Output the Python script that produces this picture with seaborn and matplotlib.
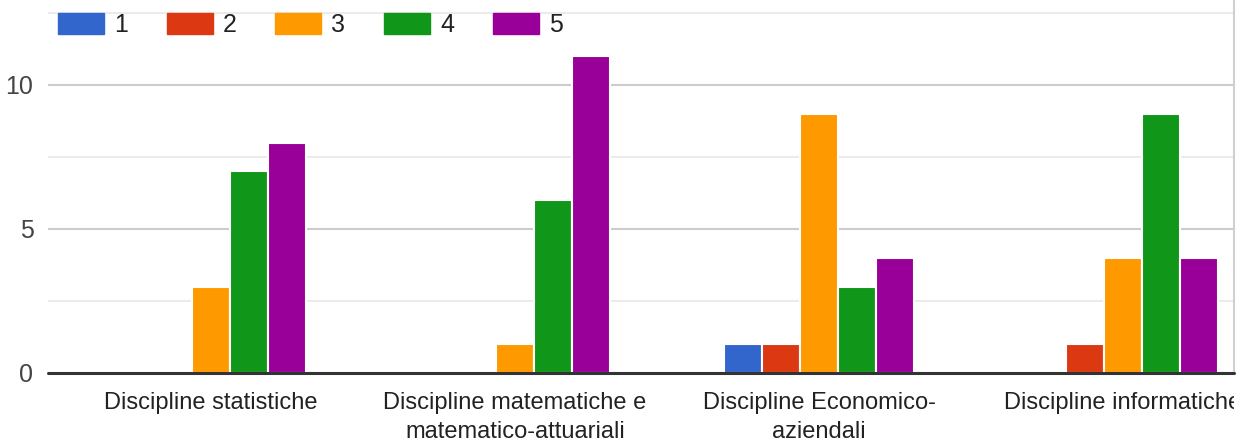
import pandas as pd
import seaborn as sns
import matplotlib.pyplot as plt
from matplotlib.transforms import Bbox

# Dati del grafico
categorie = [
    "Discipline statistiche",
    "Discipline matematiche e\nmatematico-attuariali",
    "Discipline Economico-\naziendali",
    "Discipline informatiche",
]
livelli = ["1", "2", "3", "4", "5"]
voto_1 = [0, 0, 1, 0]
voto_2 = [0, 0, 1, 1]
voto_3 = [3, 1, 9, 4]
voto_4 = [7, 6, 3, 9]
voto_5 = [8, 11, 4, 4]
colori = ["#3366cc", "#dc3912", "#ff9900", "#109618", "#990099"]

serie = [voto_1, voto_2, voto_3, voto_4, voto_5]
righe = []
for liv, valori in zip(livelli, serie):
    for cat, v in zip(categorie, valori):
        righe.append({"Disciplina": cat, "Voto": liv, "Conteggio": v})
df = pd.DataFrame(righe)

sns.set_style("white")
plt.rcParams["font.family"] = ["Liberation Sans", "DejaVu Sans"]

W, H, DPI = 1239, 443, 100
fig = plt.figure(figsize=(W / DPI, H / DPI), dpi=DPI)
ax = fig.add_axes([48 / W, (H - 373) / H, (1234 - 48) / W, 373 / H])

sns.barplot(data=df, x="Disciplina", y="Conteggio", hue="Voto",
            order=categorie, hue_order=livelli, palette=colori,
            width=0.625, edgecolor="white", linewidth=1.5,
            saturation=1, legend=False, ax=ax, zorder=3)

ax.set_xlim(-0.536, 3.365)
ax.set_ylim(0, 12.95)
ax.set_yticks([0, 5, 10])
ax.set_yticks([2.5, 7.5, 12.5], minor=True)
ax.grid(axis="y", which="major", color="#cccccc", linewidth=1.5, zorder=0)
ax.grid(axis="y", which="minor", color="#ebebeb", linewidth=1.5, zorder=0)
ax.set_axisbelow(True)
ax.axhline(0, color="#333333", linewidth=2.2, zorder=5, clip_on=False)

for s in ["top", "left", "bottom"]:
    ax.spines[s].set_visible(False)
ax.spines["right"].set_color("#d0d0d0")
ax.spines["right"].set_linewidth(1.5)

ax.set_xlabel("")
ax.set_ylabel("")
ax.tick_params(axis="both", which="both", length=0)
ax.tick_params(axis="x", pad=14, labelsize=17, labelcolor="#222222")
ax.tick_params(axis="y", pad=10.5, labelsize=18, labelcolor="#444444")
for t in ax.get_xticklabels():
    t.set_linespacing(1.38)
    t.set_verticalalignment("top")
    # il reference taglia l'ultima etichetta al bordo del riquadro
    t.set_clip_box(Bbox.from_extents(0, 0, 1234, H))
    t.set_clip_on(True)

# Legenda in alto a sinistra
handles = [plt.Rectangle((0, 0), 1, 1, color=c) for c in colori]
fig.legend(handles, livelli, loc="upper left",
           bbox_to_anchor=(58 / W, 1 - 13 / H), ncol=5, frameon=False,
           fontsize=18, handlelength=1.84, handleheight=0.88,
           handletextpad=0.4, columnspacing=1.55, borderpad=0,
           borderaxespad=0, labelcolor="#222222")

plt.savefig("out.png", dpi=DPI)
